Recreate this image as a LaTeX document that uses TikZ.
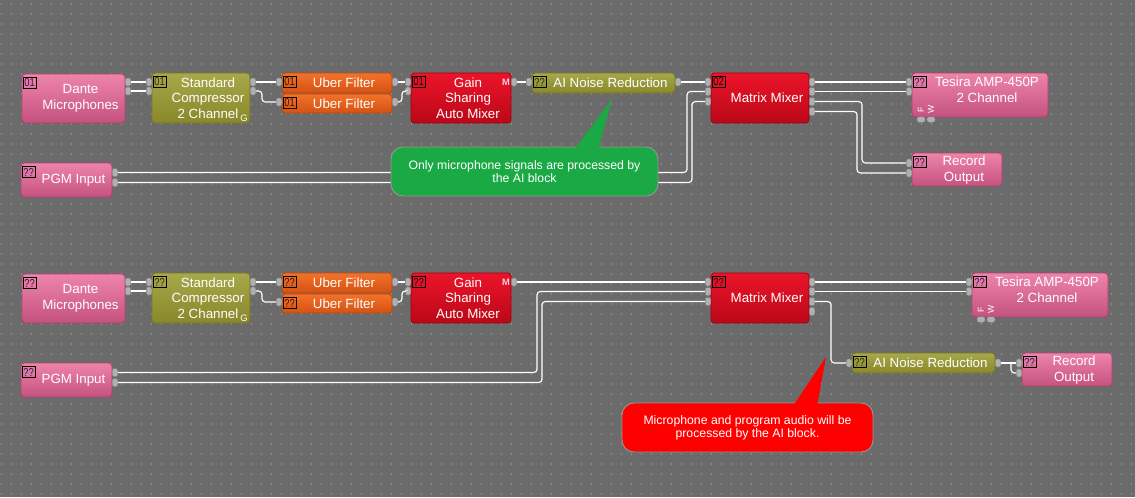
\documentclass[tikz,border=0pt]{standalone}
\usepackage{fontspec}
\setmainfont{Liberation Sans}
\definecolor{bgc}{RGB}{107,107,107}
\definecolor{dotc}{RGB}{142,142,142}
\definecolor{pinkT}{RGB}{238,132,170}
\definecolor{pinkB}{RGB}{196,82,127}
\definecolor{pinkD}{RGB}{176,64,110}
\definecolor{oliveT}{RGB}{166,168,74}
\definecolor{oliveB}{RGB}{136,136,42}
\definecolor{oliveD}{RGB}{118,118,32}
\definecolor{orT}{RGB}{242,114,42}
\definecolor{orB}{RGB}{212,82,18}
\definecolor{orD}{RGB}{190,72,14}
\definecolor{redT}{RGB}{236,20,42}
\definecolor{redB}{RGB}{186,8,24}
\definecolor{redD}{RGB}{160,0,16}
\definecolor{portc}{RGB}{176,176,176}
\definecolor{portd}{RGB}{130,130,130}
\definecolor{gcallc}{RGB}{26,169,68}
\definecolor{rcallc}{RGB}{255,0,0}
\definecolor{callb}{RGB}{150,150,150}
\definecolor{tagpinkc}{RGB}{40,30,90}
\definecolor{tagolivec}{RGB}{45,45,10}
\definecolor{tagorc}{RGB}{60,20,0}
\definecolor{tagredc}{RGB}{50,0,0}
\tikzset{
  blk/.style={rectangle, rounded corners=2.5pt, inner sep=0pt, outer sep=0pt, anchor=north west, line width=0.6pt},
  pinkblk/.style={blk, top color=pinkT, bottom color=pinkB, draw=pinkD},
  oliveblk/.style={blk, top color=oliveT, bottom color=oliveB, draw=oliveD},
  orangeblk/.style={blk, top color=orT, bottom color=orB, draw=orD},
  redblk/.style={blk, top color=redT, bottom color=redB, draw=redD},
  pinktag/.style={text=tagpinkc},
  olivetag/.style={text=tagolivec},
  orangetag/.style={text=tagorc},
  redtag/.style={text=tagredc},
  tag/.style={draw=black, line width=0.75pt, inner sep=0pt, minimum width=13*0.75pt, minimum height=11*0.75pt, anchor=north west, font=\fontsize{8.6}{8.6}\selectfont},
  blktext/.style={text=white, font=\fontsize{10}{11.8}\selectfont, align=center, inner sep=0pt},
  smalltext/.style={text=white, font=\fontsize{7}{7}\selectfont, inner sep=0pt},
  port/.style={rectangle, rounded corners=1.6pt, fill=portc, draw=portd, line width=0.3pt, minimum width=5.5*0.75pt, minimum height=8*0.75pt, inner sep=0pt},
  vport/.style={port, minimum width=8*0.75pt, minimum height=5.5*0.75pt},
  wire/.style={draw=white, line width=0.85pt, rounded corners=2.5pt},
  callout/.style={rectangle, rounded corners=9pt, draw=callb, line width=0.7pt, text=white, align=center, font=\fontsize{9.2}{9.8}\selectfont, inner sep=0pt}
}
% #1 name, #2 colour style, #3 x, #4 y, #5 width, #6 height, #7 tag, #8 text, #9 text yshift (px)
\newcommand{\dspblock}[9]{%
  \node[#2blk, minimum width={#5*0.75pt}, minimum height={#6*0.75pt}] (#1) at (#3,#4) {};
  \node[tag, #2tag] (#1-tag) at ([shift={(0.7,3)}]#1.north west) {\scalebox{0.82}[1]{#7}};
  \node[blktext] (#1-text) at ([shift={(7,#9)}]#1.center) {#8};
}
\begin{document}
\begin{tikzpicture}[x=0.75pt,y=-0.75pt]
\fill[bgc] (0,0) rectangle (1135,497);
\useasboundingbox (0,0) rectangle (1135,497);
\foreach \yy in {4,14,...,494}
  \draw[dotc, line width=0.9pt, dash pattern=on 0.9pt off 6.6pt] (1,\yy) -- (1135,\yy);

\foreach \r/\dy/\ta/\tm/\sa/\sb in {1/0/01/02/-18/-13, 2/200/??/??/-168/-163}{
  \dspblock{dm\r}{pink}{22}{74+\dy}{103}{49}{\ta}{Dante\\Microphones}{0}
  \dspblock{cp\r}{olive}{152}{73+\dy}{98}{50}{\ta}{Standard\\Compressor\\2 Channel}{0}
  \node[smalltext] (cp\r-g) at (244,118+\dy) {G};
  \dspblock{ufa\r}{orange}{282}{73+\dy}{110}{20}{\ta}{Uber Filter}{0}
  \dspblock{ufb\r}{orange}{282}{94+\dy}{110}{19}{\ta}{Uber Filter}{0}
  \dspblock{gs\r}{red}{411}{73+\dy}{100}{50}{\ta}{Gain\\Sharing\\Auto Mixer}{0}
  \node[smalltext, font=\bfseries\fontsize{7}{7}\selectfont, text=pinkT!40!white] (gs\r-m) at (506,82+\dy) {M};
  \dspblock{mx\r}{red}{711}{73+\dy}{98}{50}{\tm}{Matrix Mixer}{0}
  \dspblock{pgm\r}{pink}{21}{163+\dy}{91}{34}{??}{PGM Input}{0}
  % ports
  \node[port] (dm\r-o1) at (128,82+\dy) {};
  \node[port] (dm\r-o2) at (128,91+\dy) {};
  \node[port] (cp\r-i1) at (149,82+\dy) {};
  \node[port] (cp\r-i2) at (149,91+\dy) {};
  \node[port] (cp\r-o1) at (253,82+\dy) {};
  \node[port] (cp\r-o2) at (253,91+\dy) {};
  \node[port] (ufa\r-i) at (279,82+\dy) {};
  \node[port] (ufb\r-i) at (279,102+\dy) {};
  \node[port] (ufa\r-o) at (395,82+\dy) {};
  \node[port] (ufb\r-o) at (395,102+\dy) {};
  \node[port] (gs\r-i1) at (408,82+\dy) {};
  \node[port] (gs\r-i2) at (408,91+\dy) {};
  \node[port] (gs\r-o) at (514,82+\dy) {};
  \node[port] (mx\r-i1) at (708,82+\dy) {};
  \node[port] (mx\r-i2) at (708,91.5+\dy) {};
  \node[port] (mx\r-i3) at (708,101.5+\dy) {};
  \node[port] (mx\r-o1) at (812,82+\dy) {};
  \node[port] (mx\r-o2) at (812,91.5+\dy) {};
  \node[port] (mx\r-o3) at (812,101.5+\dy) {};
  \node[port] (mx\r-o4) at (812,111.5+\dy) {};
  \node[port] (pgm\r-o1) at (115,172.5+\dy) {};
  \node[port] (pgm\r-o2) at (115,182.5+\dy) {};
  % wires
  \draw[wire] (dm\r-o1.east) -- (cp\r-i1.west);
  \draw[wire] (dm\r-o2.east) -- (cp\r-i2.west);
  \draw[wire] (cp\r-o1.east) -- (ufa\r-i.west);
  \draw[wire] (cp\r-o2.east) -- ++(6,0) |- (ufb\r-i.west);
  \draw[wire] (ufa\r-o.east) -- (gs\r-i1.west);
  \draw[wire] (ufb\r-o.east) -- ++(4,0) |- (gs\r-i2.west);
  \draw[wire] (pgm\r-o1.east) -| ([xshift=\sa*0.75pt]mx\r-i2.west) -- (mx\r-i2.west);
  \draw[wire] (pgm\r-o2.east) -| ([xshift=\sb*0.75pt]mx\r-i3.west) -- (mx\r-i3.west);
}

% top row specific
\dspblock{ai1}{olive}{532}{73}{143}{20}{??}{AI Noise Reduction}{0}
\dspblock{ts1}{pink}{912}{73}{136}{44}{??}{Tesira AMP-450P\\2 Channel}{-5.5}
\dspblock{rec1}{pink}{912}{153}{90}{33}{??}{Record\\Output}{0.5}
\node[port] (ai1-i) at (529,82) {};
\node[port] (ai1-o) at (678,82) {};
\node[port] (ts1-i1) at (909,82) {};
\node[port] (ts1-i2) at (909,91.5) {};
\node[vport] (ts1-b1) at (921,119.5) {};
\node[vport] (ts1-b2) at (931,119.5) {};
\node[smalltext, rotate=90, font=\fontsize{6.5}{6.5}\selectfont] (ts1-f) at (921,109.5) {F};
\node[smalltext, rotate=90, font=\fontsize{6.5}{6.5}\selectfont] (ts1-w) at (931,109.5) {W};
\node[port] (rec1-i1) at (909,163) {};
\node[port] (rec1-i2) at (909,173) {};
\draw[wire] (gs1-o.east) -- (ai1-i.west);
\draw[wire] (ai1-o.east) -- (mx1-i1.west);
\draw[wire] (mx1-o1.east) -- (ts1-i1.west);
\draw[wire] (mx1-o2.east) -- (ts1-i2.west);
\draw[wire] (mx1-o3.east) -| ([xshift=-44*0.75pt]rec1-i1.west) -- (rec1-i1.west);
\draw[wire] (mx1-o4.east) -| ([xshift=-49*0.75pt]rec1-i2.west) -- (rec1-i2.west);

% bottom row specific
\dspblock{ts2}{pink}{972}{273}{136}{44}{??}{Tesira AMP-450P\\2 Channel}{-5.5}
\dspblock{ai2}{olive}{852}{353}{143}{20}{??}{AI Noise Reduction}{0}
\dspblock{rec2}{pink}{1022}{353}{90}{33}{??}{Record\\Output}{0.5}
\node[port] (ts2-i1) at (969,282) {};
\node[port] (ts2-i2) at (969,291.5) {};
\node[vport] (ts2-b1) at (981,319.5) {};
\node[vport] (ts2-b2) at (991,319.5) {};
\node[smalltext, rotate=90, font=\fontsize{6.5}{6.5}\selectfont] (ts2-f) at (981,309.5) {F};
\node[smalltext, rotate=90, font=\fontsize{6.5}{6.5}\selectfont] (ts2-w) at (991,309.5) {W};
\node[port] (ai2-i) at (849,363) {};
\node[port] (ai2-o) at (998,363) {};
\node[port] (rec2-i1) at (1019,363) {};
\node[port] (rec2-i2) at (1019,373) {};
\draw[wire] (gs2-o.east) -- (mx2-i1.west);
\draw[wire] (mx2-o1.east) -- (ts2-i1.west);
\draw[wire] (mx2-o2.east) -- (ts2-i2.west);
\draw[wire] (mx2-o3.east) -| ([xshift=-15*0.75pt]ai2-i.west) -- (ai2-i.west);
\draw[wire] (ai2-o.east) -- (rec2-i1.west);
\coordinate (br2) at ([xshift=-5*0.75pt]rec2-i1.west);
\draw[wire] (br2) |- (rec2-i2.west);

% callouts
\node[callout, fill=gcallc, minimum width=267*0.75pt, minimum height=49*0.75pt] (gcall) at (524.5,171.5) {Only microphone signals are processed by\\the AI block};
\fill[gcallc] (574,150) -- (612,99) -- (598,150) -- cycle;
\node[callout, fill=rcallc, minimum width=251*0.75pt, minimum height=49*0.75pt] (rcall) at (747.5,427.5) {Microphone and program audio will be\\processed by the AI block.};
\fill[rcallc] (793,406) -- (826,357) -- (817,406) -- cycle;
\end{tikzpicture}
\end{document}
